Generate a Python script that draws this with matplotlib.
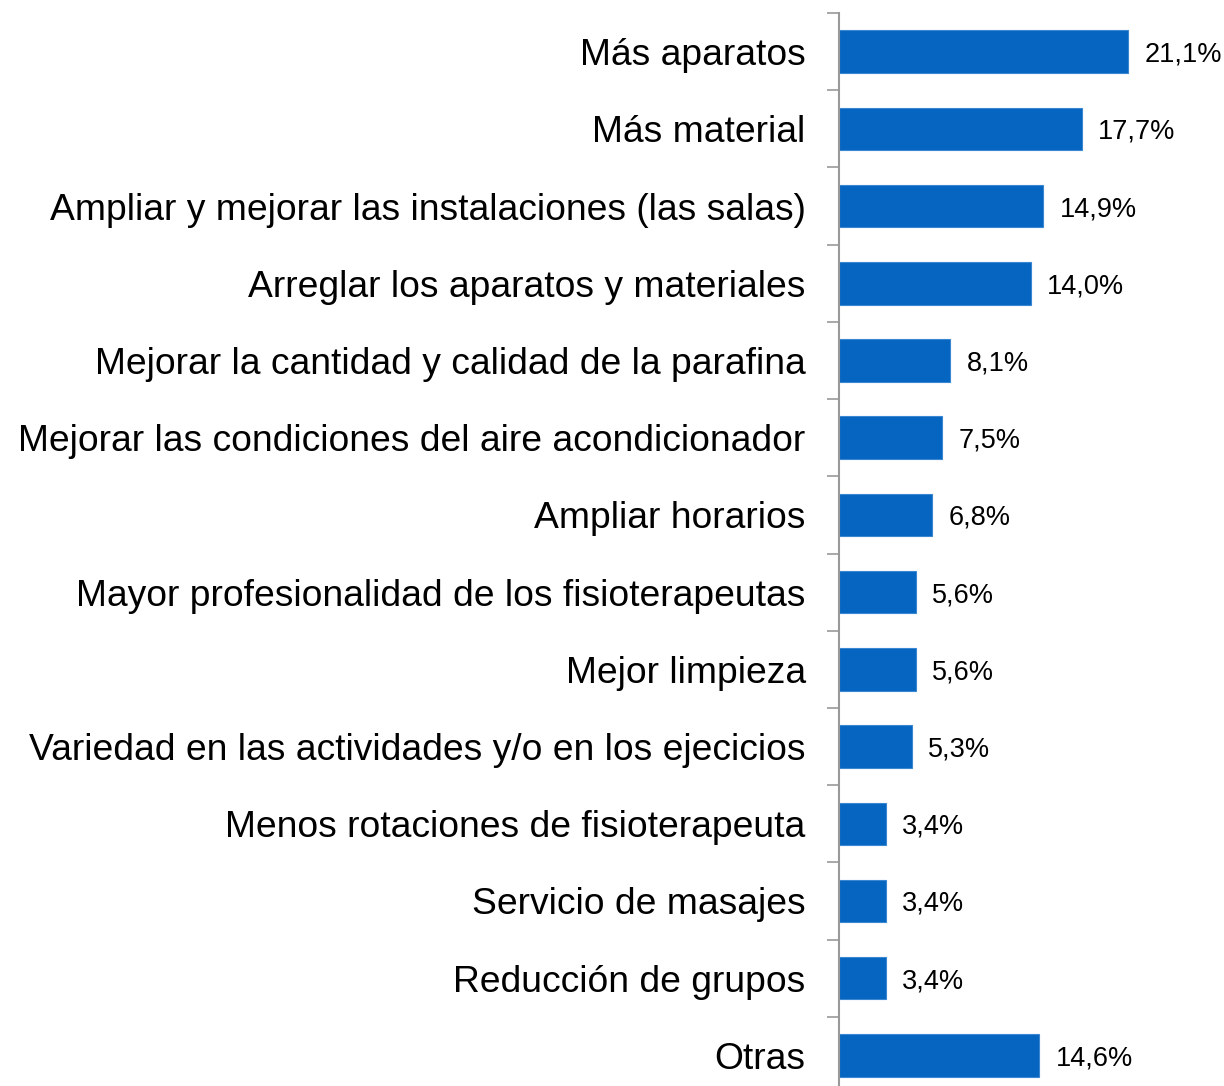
import matplotlib
matplotlib.use("Agg")
import matplotlib.pyplot as plt
import numpy as np

plt.rcParams['font.family'] = ['Liberation Sans', 'DejaVu Sans']

categorias = [
    "Más aparatos",
    "Más material",
    "Ampliar y mejorar las instalaciones (las salas)",
    "Arreglar los aparatos y materiales",
    "Mejorar la cantidad y calidad de la parafina",
    "Mejorar las condiciones del aire acondicionador",
    "Ampliar horarios",
    "Mayor profesionalidad de los fisioterapeutas",
    "Mejor limpieza",
    "Variedad en las actividades y/o en los ejecicios",
    "Menos rotaciones de fisioterapeuta",
    "Servicio de masajes",
    "Reducción de grupos",
    "Otras",
]
valores = [21.1, 17.7, 14.9, 14.0, 8.1, 7.5, 6.8, 5.6, 5.6, 5.3, 3.4, 3.4, 3.4, 14.6]

fig = plt.figure(figsize=(12.24, 10.86), dpi=100)
ax = fig.add_axes([0.6855, -0.0074, 0.3145, 0.9954])

y = np.arange(len(categorias))
ax.barh(y, valores, height=0.55, color='#0565C0', edgecolor='#3a86d0', linewidth=0.8)

for yi, v in zip(y, valores):
    ax.text(v + 1.2, yi, f"{v:.1f}%".replace('.', ','), va='center_baseline',
            ha='left', fontsize=19.5)

ax.set_ylim(len(categorias) - 0.5, -0.5)
ax.set_xlim(0, 28.1)

ax.set_yticks(y)
ax.set_yticklabels(categorias, fontsize=26.8)
ax.tick_params(axis='y', which='major', length=0, pad=24)
ax.set_yticks(np.arange(-0.5, len(categorias), 1), minor=True)
ax.tick_params(axis='y', which='minor', length=9, width=1.2, color='#999999')

ax.set_xticks([])
for s in ['top', 'right', 'bottom']:
    ax.spines[s].set_visible(False)
ax.spines['left'].set_color('#999999')
ax.spines['left'].set_linewidth(1.5)

fig.savefig('out.png', dpi=100)
